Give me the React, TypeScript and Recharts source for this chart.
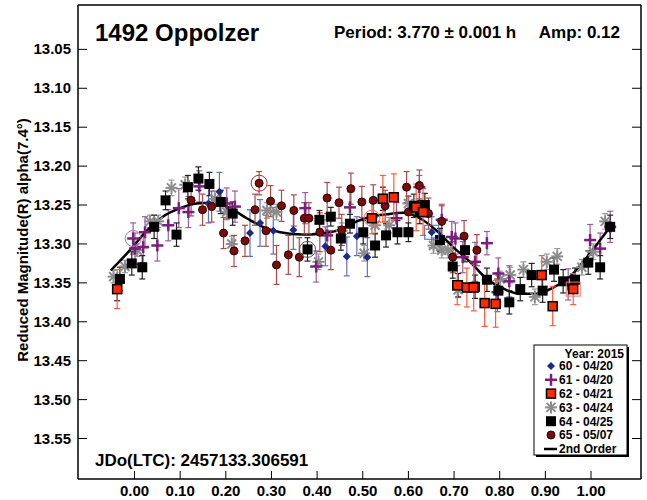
import React from "react";
import { ComposedChart, Scatter, Line, XAxis, YAxis, ErrorBar } from "recharts";

const FONT = '"Liberation Sans", Arial, sans-serif';

const phaseTicks = [0, 0.1, 0.2, 0.3, 0.4, 0.5, 0.6, 0.7, 0.8, 0.9, 1.0];
const magTicks = [13.05, 13.1, 13.15, 13.2, 13.25, 13.3, 13.35, 13.4, 13.45, 13.5, 13.55];

// [phase, reduced mag, error]
type Pt = [number, number, number];

const s60: Pt[] = [
  [0.162, 13.248, 0.025], [0.186, 13.233, 0.025], [0.253, 13.286, 0.03],
  [0.275, 13.273, 0.03], [0.304, 13.283, 0.03], [0.348, 13.282, 0.025],
  [0.418, 13.303, 0.025], [0.465, 13.316, 0.025], [0.487, 13.29, 0.025],
  [0.51, 13.317, 0.025], [0.651, 13.285, 0.02],
];

const s61: Pt[] = [
  [-0.003, 13.293, 0.02], [0.001, 13.306, 0.02], [0.019, 13.304, 0.02],
  [0.023, 13.285, 0.02], [0.05, 13.302, 0.02], [0.074, 13.276, 0.02],
  [0.097, 13.254, 0.025], [0.118, 13.259, 0.02], [0.142, 13.226, 0.02],
  [0.202, 13.248, 0.02], [0.22, 13.252, 0.02], [0.374, 13.254, 0.02],
  [0.398, 13.329, 0.02], [0.422, 13.289, 0.02], [0.472, 13.253, 0.02],
  [0.574, 13.267, 0.02], [0.624, 13.227, 0.015], [0.673, 13.269, 0.02],
  [0.695, 13.291, 0.02], [0.703, 13.293, 0.02], [0.719, 13.317, 0.02],
  [0.746, 13.323, 0.025], [0.772, 13.299, 0.015], [0.795, 13.362, 0.025],
  [0.797, 13.338, 0.02], [0.821, 13.348, 0.02], [0.95, 13.352, 0.02],
  [0.998, 13.295, 0.02], [1.02, 13.306, 0.02], [1.042, 13.278, 0.02],
];

const s62: Pt[] = [
  [-0.038, 13.358, 0.025], [0.52, 13.267, 0.02], [0.544, 13.242, 0.03],
  [0.568, 13.24, 0.03], [0.617, 13.253, 0.03], [0.632, 13.259, 0.03],
  [0.707, 13.353, 0.025], [0.728, 13.356, 0.025], [0.743, 13.356, 0.03],
  [0.767, 13.376, 0.03], [0.791, 13.377, 0.03], [0.892, 13.34, 0.025],
  [0.916, 13.38, 0.025], [0.961, 13.358, 0.02],
];

const s63: Pt[] = [
  [-0.046, 13.342, 0.008], [-0.021, 13.329, 0.008], [0.006, 13.308, 0.008],
  [0.034, 13.271, 0.008], [0.052, 13.271, 0.008], [0.081, 13.228, 0.01],
  [0.111, 13.224, 0.01], [0.176, 13.242, 0.01], [0.202, 13.259, 0.01],
  [0.213, 13.3, 0.01], [0.29, 13.257, 0.01], [0.311, 13.259, 0.01],
  [0.403, 13.323, 0.01], [0.454, 13.283, 0.01], [0.503, 13.312, 0.01],
  [0.527, 13.276, 0.01], [0.558, 13.276, 0.01], [0.6, 13.248, 0.01],
  [0.655, 13.302, 0.01], [0.673, 13.308, 0.01], [0.687, 13.308, 0.01],
  [0.709, 13.359, 0.01], [0.801, 13.345, 0.01], [0.823, 13.34, 0.01],
  [0.852, 13.333, 0.01], [0.877, 13.368, 0.01], [0.903, 13.323, 0.01],
  [0.926, 13.316, 0.01], [0.98, 13.33, 0.01], [1.005, 13.31, 0.01],
  [1.031, 13.271, 0.01],
];

const s64: Pt[] = [
  [-0.038, 13.358, 0.015], [-0.032, 13.345, 0.015], [-0.006, 13.325, 0.015],
  [0.017, 13.33, 0.015], [0.043, 13.278, 0.015], [0.068, 13.244, 0.012],
  [0.092, 13.288, 0.015], [0.117, 13.227, 0.015], [0.14, 13.216, 0.015],
  [0.164, 13.223, 0.015], [0.189, 13.246, 0.015], [0.215, 13.261, 0.015],
  [0.379, 13.307, 0.015], [0.405, 13.269, 0.012], [0.43, 13.265, 0.012],
  [0.452, 13.293, 0.015], [0.472, 13.274, 0.012], [0.501, 13.285, 0.015],
  [0.527, 13.302, 0.015], [0.544, 13.242, 0.015], [0.551, 13.289, 0.015],
  [0.576, 13.285, 0.015], [0.6, 13.285, 0.012], [0.612, 13.251, 0.015],
  [0.625, 13.259, 0.015], [0.636, 13.25, 0.015], [0.669, 13.295, 0.015],
  [0.697, 13.329, 0.015], [0.709, 13.353, 0.015], [0.724, 13.308, 0.015],
  [0.746, 13.355, 0.015], [0.772, 13.346, 0.015], [0.797, 13.36, 0.015],
  [0.821, 13.375, 0.015], [0.845, 13.358, 0.015], [0.87, 13.34, 0.015],
  [0.894, 13.36, 0.015], [0.919, 13.333, 0.015], [0.939, 13.348, 0.015],
  [0.965, 13.346, 0.015], [0.994, 13.324, 0.015], [1.02, 13.33, 0.015],
  [1.042, 13.278, 0.015],
];

const s65: Pt[] = [
  [0.124, 13.244, 0.02], [0.149, 13.256, 0.02], [0.169, 13.252, 0.02],
  [0.195, 13.286, 0.02], [0.218, 13.309, 0.02], [0.242, 13.296, 0.02],
  [0.264, 13.256, 0.02], [0.273, 13.222, 0.015], [0.288, 13.283, 0.02],
  [0.298, 13.245, 0.02], [0.311, 13.327, 0.025], [0.322, 13.251, 0.02],
  [0.337, 13.314, 0.025], [0.349, 13.257, 0.02], [0.361, 13.317, 0.025],
  [0.372, 13.267, 0.02], [0.382, 13.267, 0.02], [0.406, 13.285, 0.025],
  [0.422, 13.241, 0.02], [0.43, 13.308, 0.025], [0.448, 13.247, 0.02],
  [0.454, 13.282, 0.02], [0.474, 13.229, 0.02], [0.498, 13.246, 0.02],
  [0.523, 13.244, 0.02], [0.549, 13.251, 0.02], [0.596, 13.227, 0.02],
  [0.6, 13.259, 0.02], [0.624, 13.225, 0.02], [0.644, 13.261, 0.02],
  [0.673, 13.271, 0.02], [0.697, 13.317, 0.02], [0.722, 13.29, 0.02],
  [0.75, 13.308, 0.02],
];

// highlighted observations (ringed / boxed in the original plot)
const ringed61 = [[-0.003, 13.293]];
const ringed62 = [[0.52, 13.267]];
const ringed64 = [[0.379, 13.307]];
const ringed65 = [[0.273, 13.222]];
const boxed60 = [[0.651, 13.285]];
const boxed62 = [[0.961, 13.358]];

// 2nd order Fourier fit
const fitPhase = [
  -0.052, -0.01, 0.027, 0.062, 0.1, 0.136, 0.172, 0.209, 0.246, 0.281, 0.319,
  0.369, 0.443, 0.479, 0.516, 0.552, 0.588, 0.625, 0.662, 0.698, 0.735, 0.772,
  0.807, 0.844, 0.881, 0.917, 0.954, 0.991, 1.042,
];
const fitMag = [
  13.334, 13.308, 13.283, 13.265, 13.254, 13.248, 13.247, 13.254, 13.267,
  13.278, 13.285, 13.288, 13.283, 13.273, 13.265, 13.262, 13.26, 13.267,
  13.283, 13.304, 13.323, 13.345, 13.357, 13.364, 13.364, 13.356, 13.342,
  13.317, 13.278,
];

const toRows = (pts: Pt[]) => pts.map(([phase, mag, err]) => ({ phase, mag, err }));
const toMarks = (pts: number[][]) => pts.map(([phase, mag]) => ({ phase, mag }));
const fitRows = fitPhase.map((phase, i) => ({ phase, mag: fitMag[i] }));

const X_DOMAIN: [number, number] = [-0.1238, 1.1095];
const Y_DOMAIN: [number, number] = [12.993, 13.602];

// marker shapes
const Diamond = ({ cx, cy }: any) => (
  <polygon
    points={`${cx},${cy - 4} ${cx + 4},${cy} ${cx},${cy + 4} ${cx - 4},${cy}`}
    fill="#1a2a8a"
  />
);
const Plus = ({ cx, cy }: any) => (
  <g stroke="#7a1f7a" strokeWidth={2.5}>
    <line x1={cx - 6} x2={cx + 6} y1={cy} y2={cy} />
    <line x1={cx} x2={cx} y1={cy - 6} y2={cy + 6} />
  </g>
);
const RedSquare = ({ cx, cy }: any) => (
  <rect x={cx - 4.5} y={cy - 4.5} width={9} height={9} fill="#ff2a00" stroke="#000" strokeWidth={1.5} />
);
const Asterisk = ({ cx, cy }: any) => (
  <g stroke="#8c8c8c" strokeWidth={2}>
    <line x1={cx - 6} x2={cx + 6} y1={cy} y2={cy} />
    <line x1={cx} x2={cx} y1={cy - 6} y2={cy + 6} />
    <line x1={cx - 4.5} x2={cx + 4.5} y1={cy - 4.5} y2={cy + 4.5} />
    <line x1={cx - 4.5} x2={cx + 4.5} y1={cy + 4.5} y2={cy - 4.5} />
  </g>
);
const BlackSquare = ({ cx, cy }: any) => (
  <rect x={cx - 5} y={cy - 5} width={10} height={10} fill="#000" />
);
const Dot = ({ cx, cy }: any) => (
  <circle cx={cx} cy={cy} r={4} fill="#7a0c0c" stroke="#2a0000" strokeWidth={1} />
);
const ring = (color: string) => ({ cx, cy }: any) => (
  <circle cx={cx} cy={cy} r={8} fill="none" stroke={color} strokeWidth={1} />
);
const box = (color: string) => ({ cx, cy }: any) => (
  <rect x={cx - 7} y={cy - 7} width={14} height={14} fill="none" stroke={color} strokeWidth={1} />
);

const BottomTick = ({ x, y, payload }: any) => (
  <g>
    <line x1={x} x2={x} y1={y} y2={y - 8} stroke="#000" />
    <text x={x} y={y + 17} textAnchor="middle" fontSize={15} fontWeight="bold" fontFamily={FONT} fill="#000">
      {Number(payload.value).toFixed(2)}
    </text>
  </g>
);
const TopTick = ({ x, y }: any) => <line x1={x} x2={x} y1={y} y2={y + 8} stroke="#000" />;
const LeftTick = ({ x, y, payload }: any) => (
  <g>
    <line x1={x} x2={x + 9} y1={y} y2={y} stroke="#000" />
    <text x={x - 7} y={y + 5} textAnchor="end" fontSize={15} fontWeight="bold" fontFamily={FONT} fill="#000">
      {Number(payload.value).toFixed(2)}
    </text>
  </g>
);
const RightTick = ({ x, y }: any) => <line x1={x} x2={x - 9} y1={y} y2={y} stroke="#000" />;

const legendRows = [
  { label: "60 - 04/20", Shape: Diamond },
  { label: "61 - 04/20", Shape: Plus },
  { label: "62 - 04/21", Shape: RedSquare },
  { label: "63 - 04/24", Shape: Asterisk },
  { label: "64 - 04/25", Shape: BlackSquare },
  { label: "65 - 05/07", Shape: Dot },
];

const axisLine = { stroke: "#000", strokeWidth: 1.5 };

export default function App() {
  return (
    <div style={{ position: "absolute", left: 0, top: 0, width: 647, height: 500, background: "#fff" }}>
      <ComposedChart width={647} height={500} margin={{ top: 4, right: 5, bottom: 20, left: 77 }}>
        <XAxis
          xAxisId={0}
          dataKey="phase"
          type="number"
          domain={X_DOMAIN}
          allowDataOverflow
          ticks={phaseTicks}
          interval={0}
          height={1}
          tickSize={0}
          tickMargin={0}
          tickLine={false}
          axisLine={axisLine}
          tick={BottomTick}
        />
        <XAxis
          xAxisId="top"
          orientation="top"
          type="number"
          domain={X_DOMAIN}
          allowDataOverflow
          ticks={phaseTicks}
          interval={0}
          height={1}
          tickSize={0}
          tickMargin={0}
          tickLine={false}
          axisLine={axisLine}
          tick={TopTick}
        />
        <YAxis
          yAxisId={0}
          dataKey="mag"
          type="number"
          reversed
          domain={Y_DOMAIN}
          allowDataOverflow
          ticks={magTicks}
          interval={0}
          width={1}
          tickSize={0}
          tickMargin={0}
          tickLine={false}
          axisLine={axisLine}
          tick={LeftTick}
        />
        <YAxis
          yAxisId="right"
          orientation="right"
          type="number"
          reversed
          domain={Y_DOMAIN}
          allowDataOverflow
          ticks={magTicks}
          interval={0}
          width={1}
          tickSize={0}
          tickMargin={0}
          tickLine={false}
          axisLine={axisLine}
          tick={RightTick}
        />
        <Scatter data={toRows(s63)} dataKey="mag" shape={Asterisk} isAnimationActive={false}>
          <ErrorBar dataKey="err" direction="y" width={3} stroke="#9a9a9a" strokeWidth={1.2} />
        </Scatter>
        <Scatter data={toRows(s61)} dataKey="mag" shape={Plus} isAnimationActive={false}>
          <ErrorBar dataKey="err" direction="y" width={3} stroke="#a05aa0" strokeWidth={1.2} />
        </Scatter>
        <Scatter data={toRows(s60)} dataKey="mag" shape={Diamond} isAnimationActive={false}>
          <ErrorBar dataKey="err" direction="y" width={3} stroke="#6070c0" strokeWidth={1.2} />
        </Scatter>
        <Line
          data={fitRows}
          dataKey="mag"
          type="monotone"
          stroke="#000"
          strokeWidth={2.5}
          dot={false}
          isAnimationActive={false}
        />
        <Scatter data={toRows(s65)} dataKey="mag" shape={Dot} isAnimationActive={false}>
          <ErrorBar dataKey="err" direction="y" width={3} stroke="#b04a4a" strokeWidth={1.2} />
        </Scatter>
        <Scatter data={toRows(s64)} dataKey="mag" shape={BlackSquare} isAnimationActive={false}>
          <ErrorBar dataKey="err" direction="y" width={3} stroke="#222" strokeWidth={1.2} />
        </Scatter>
        <Scatter data={toRows(s62)} dataKey="mag" shape={RedSquare} isAnimationActive={false}>
          <ErrorBar dataKey="err" direction="y" width={3} stroke="#ff5a3a" strokeWidth={1.2} />
        </Scatter>
        <Scatter data={toMarks(ringed61)} dataKey="mag" shape={ring("#b070b0")} isAnimationActive={false} />
        <Scatter data={toMarks(ringed62)} dataKey="mag" shape={ring("#ff6a50")} isAnimationActive={false} />
        <Scatter data={toMarks(ringed64)} dataKey="mag" shape={ring("#555")} isAnimationActive={false} />
        <Scatter data={toMarks(ringed65)} dataKey="mag" shape={ring("#a03030")} isAnimationActive={false} />
        <Scatter data={toMarks(boxed60)} dataKey="mag" shape={box("#5060c0")} isAnimationActive={false} />
        <Scatter data={toMarks(boxed62)} dataKey="mag" shape={box("#ff7060")} isAnimationActive={false} />
      </ComposedChart>

      <svg
        width={647}
        height={500}
        style={{ position: "absolute", left: 0, top: 0, pointerEvents: "none" }}
        fontFamily={FONT}
        fontWeight="bold"
      >
        <text x={95} y={41} fontSize={24}>1492 Oppolzer</text>
        <text x={334} y={38} fontSize={17}>Period: 3.770 ± 0.001 h</text>
        <text x={620} y={38} fontSize={17} textAnchor="end">Amp: 0.12</text>
        <text x={95} y={466} fontSize={17}>JDo(LTC): 2457133.306591</text>
        <text x={28} y={240} fontSize={15} textAnchor="middle" transform="rotate(-90 28 240)">
          Reduced Magnitude(R) alpha(7.4°)
        </text>

        <rect x={536} y={347} width={93} height={110} fill="#000" />
        <rect x={534} y={345} width={93} height={110} fill="#fff" stroke="#000" strokeWidth={1} />
        <text x={624} y={357.5} fontSize={12} textAnchor="end">Year: 2015</text>
        {legendRows.map(({ label, Shape }, i) => {
          const cy = 366 + i * 13.8;
          return (
            <g key={label}>
              <Shape cx={551} cy={cy} />
              <text x={559} y={cy + 4.3} fontSize={12}>{label}</text>
            </g>
          );
        })}
        <line x1={544} x2={557} y1={449} y2={449} stroke="#000" strokeWidth={2.5} />
        <text x={559} y={453.3} fontSize={12}>2nd Order</text>
      </svg>
    </div>
  );
}
